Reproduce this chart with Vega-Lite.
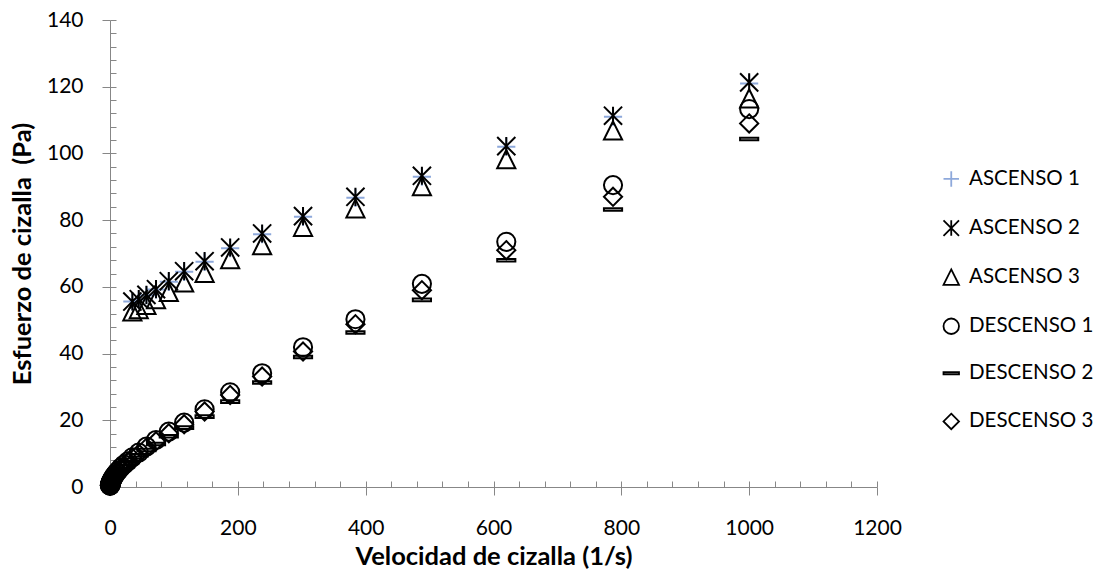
{
  "$schema": "https://vega.github.io/schema/vega-lite/v6.json",
  "width": 767,
  "height": 467,
  "autosize": "none",
  "padding": {"left": 110, "top": 20, "right": 229, "bottom": 90},
  "background": "white",
  "config": {
    "font": "Lato",
    "view": {"stroke": null},
    "axis": {
      "grid": false,
      "domainColor": "#878787",
      "domainWidth": 1,
      "tickColor": "#878787",
      "tickWidth": 1,
      "labelColor": "#000000",
      "labelFontSize": 21,
      "labelFont": "Lato",
      "titleColor": "#000000",
      "titleFont": "Lato",
      "titleFontSize": 25.5,
      "titleFontWeight": "bold",
      "labelOverlap": false,
      "labelFlush": false,
      "format": "d"
    },
    "legend": {
      "padding": 0,
      "labelFont": "Lato",
      "labelFontSize": 20.5,
      "labelColor": "#000000",
      "symbolSize": 240,
      "symbolStrokeWidth": 1.8,
      "rowPadding": 25.1,
      "labelOffset": 7.5,
      "labelLimit": 300
    }
  },
  "data": {
    "values": [
      {"serie": "ASCENSO 1", "velocidad": 1000, "esfuerzo": 121.0},
      {"serie": "ASCENSO 1", "velocidad": 787, "esfuerzo": 111.0},
      {"serie": "ASCENSO 1", "velocidad": 620, "esfuerzo": 102.0},
      {"serie": "ASCENSO 1", "velocidad": 488, "esfuerzo": 93.0},
      {"serie": "ASCENSO 1", "velocidad": 384, "esfuerzo": 86.7},
      {"serie": "ASCENSO 1", "velocidad": 302, "esfuerzo": 81.0},
      {"serie": "ASCENSO 1", "velocidad": 238, "esfuerzo": 75.8},
      {"serie": "ASCENSO 1", "velocidad": 188, "esfuerzo": 71.6},
      {"serie": "ASCENSO 1", "velocidad": 148, "esfuerzo": 67.5},
      {"serie": "ASCENSO 1", "velocidad": 116, "esfuerzo": 64.5},
      {"serie": "ASCENSO 1", "velocidad": 92, "esfuerzo": 61.5},
      {"serie": "ASCENSO 1", "velocidad": 72, "esfuerzo": 59.2},
      {"serie": "ASCENSO 1", "velocidad": 57, "esfuerzo": 57.5},
      {"serie": "ASCENSO 1", "velocidad": 45, "esfuerzo": 56.2},
      {"serie": "ASCENSO 1", "velocidad": 35, "esfuerzo": 55.6},

      {"serie": "ASCENSO 2", "velocidad": 1000, "esfuerzo": 121.3},
      {"serie": "ASCENSO 2", "velocidad": 787, "esfuerzo": 111.3},
      {"serie": "ASCENSO 2", "velocidad": 620, "esfuerzo": 102.2},
      {"serie": "ASCENSO 2", "velocidad": 488, "esfuerzo": 93.3},
      {"serie": "ASCENSO 2", "velocidad": 384, "esfuerzo": 87.0},
      {"serie": "ASCENSO 2", "velocidad": 302, "esfuerzo": 81.2},
      {"serie": "ASCENSO 2", "velocidad": 238, "esfuerzo": 76.0},
      {"serie": "ASCENSO 2", "velocidad": 188, "esfuerzo": 71.8},
      {"serie": "ASCENSO 2", "velocidad": 148, "esfuerzo": 67.7},
      {"serie": "ASCENSO 2", "velocidad": 116, "esfuerzo": 64.7},
      {"serie": "ASCENSO 2", "velocidad": 92, "esfuerzo": 61.7},
      {"serie": "ASCENSO 2", "velocidad": 72, "esfuerzo": 59.3},
      {"serie": "ASCENSO 2", "velocidad": 57, "esfuerzo": 57.6},
      {"serie": "ASCENSO 2", "velocidad": 45, "esfuerzo": 56.3},
      {"serie": "ASCENSO 2", "velocidad": 35, "esfuerzo": 55.6},

      {"serie": "ASCENSO 3", "velocidad": 1000, "esfuerzo": 116.5},
      {"serie": "ASCENSO 3", "velocidad": 787, "esfuerzo": 106.9},
      {"serie": "ASCENSO 3", "velocidad": 620, "esfuerzo": 98.3},
      {"serie": "ASCENSO 3", "velocidad": 488, "esfuerzo": 90.2},
      {"serie": "ASCENSO 3", "velocidad": 384, "esfuerzo": 83.5},
      {"serie": "ASCENSO 3", "velocidad": 302, "esfuerzo": 78.0},
      {"serie": "ASCENSO 3", "velocidad": 238, "esfuerzo": 72.5},
      {"serie": "ASCENSO 3", "velocidad": 188, "esfuerzo": 68.3},
      {"serie": "ASCENSO 3", "velocidad": 148, "esfuerzo": 64.2},
      {"serie": "ASCENSO 3", "velocidad": 116, "esfuerzo": 61.3},
      {"serie": "ASCENSO 3", "velocidad": 92, "esfuerzo": 58.5},
      {"serie": "ASCENSO 3", "velocidad": 72, "esfuerzo": 56.3},
      {"serie": "ASCENSO 3", "velocidad": 57, "esfuerzo": 54.6},
      {"serie": "ASCENSO 3", "velocidad": 45, "esfuerzo": 53.3},
      {"serie": "ASCENSO 3", "velocidad": 35, "esfuerzo": 52.6},

      {"serie": "DESCENSO 1", "velocidad": 1000, "esfuerzo": 113.3},
      {"serie": "DESCENSO 1", "velocidad": 787, "esfuerzo": 90.5},
      {"serie": "DESCENSO 1", "velocidad": 620, "esfuerzo": 73.5},
      {"serie": "DESCENSO 1", "velocidad": 488, "esfuerzo": 60.9},
      {"serie": "DESCENSO 1", "velocidad": 384, "esfuerzo": 50.3},
      {"serie": "DESCENSO 1", "velocidad": 302, "esfuerzo": 41.9},
      {"serie": "DESCENSO 1", "velocidad": 238, "esfuerzo": 34.1},
      {"serie": "DESCENSO 1", "velocidad": 188, "esfuerzo": 28.4},
      {"serie": "DESCENSO 1", "velocidad": 148, "esfuerzo": 23.3},
      {"serie": "DESCENSO 1", "velocidad": 116, "esfuerzo": 19.3},
      {"serie": "DESCENSO 1", "velocidad": 92, "esfuerzo": 16.6},
      {"serie": "DESCENSO 1", "velocidad": 72, "esfuerzo": 14.1},
      {"serie": "DESCENSO 1", "velocidad": 57, "esfuerzo": 12.1},
      {"serie": "DESCENSO 1", "velocidad": 45, "esfuerzo": 10.3},
      {"serie": "DESCENSO 1", "velocidad": 35, "esfuerzo": 8.9},
      {"serie": "DESCENSO 1", "velocidad": 28, "esfuerzo": 7.7},
      {"serie": "DESCENSO 1", "velocidad": 22, "esfuerzo": 6.7},
      {"serie": "DESCENSO 1", "velocidad": 17, "esfuerzo": 5.8},
      {"serie": "DESCENSO 1", "velocidad": 13.5, "esfuerzo": 5.0},
      {"serie": "DESCENSO 1", "velocidad": 10.6, "esfuerzo": 4.4},
      {"serie": "DESCENSO 1", "velocidad": 8.3, "esfuerzo": 3.8},
      {"serie": "DESCENSO 1", "velocidad": 6.5, "esfuerzo": 3.3},
      {"serie": "DESCENSO 1", "velocidad": 5.1, "esfuerzo": 2.9},
      {"serie": "DESCENSO 1", "velocidad": 4.0, "esfuerzo": 2.5},
      {"serie": "DESCENSO 1", "velocidad": 3.2, "esfuerzo": 2.2},
      {"serie": "DESCENSO 1", "velocidad": 2.5, "esfuerzo": 1.9},
      {"serie": "DESCENSO 1", "velocidad": 2.0, "esfuerzo": 1.7},
      {"serie": "DESCENSO 1", "velocidad": 1.5, "esfuerzo": 1.5},
      {"serie": "DESCENSO 1", "velocidad": 1.2, "esfuerzo": 1.3},
      {"serie": "DESCENSO 1", "velocidad": 0.95, "esfuerzo": 1.15},
      {"serie": "DESCENSO 1", "velocidad": 0.75, "esfuerzo": 1.0},
      {"serie": "DESCENSO 1", "velocidad": 0.6, "esfuerzo": 0.9},
      {"serie": "DESCENSO 1", "velocidad": 0.47, "esfuerzo": 0.8},
      {"serie": "DESCENSO 1", "velocidad": 0.37, "esfuerzo": 0.7},
      {"serie": "DESCENSO 1", "velocidad": 0.29, "esfuerzo": 0.62},
      {"serie": "DESCENSO 1", "velocidad": 0.23, "esfuerzo": 0.55},
      {"serie": "DESCENSO 1", "velocidad": 0.18, "esfuerzo": 0.49},
      {"serie": "DESCENSO 1", "velocidad": 0.14, "esfuerzo": 0.44},
      {"serie": "DESCENSO 1", "velocidad": 0.11, "esfuerzo": 0.39},

      {"serie": "DESCENSO 2", "velocidad": 1000, "esfuerzo": 104.3},
      {"serie": "DESCENSO 2", "velocidad": 787, "esfuerzo": 83.2},
      {"serie": "DESCENSO 2", "velocidad": 620, "esfuerzo": 68.0},
      {"serie": "DESCENSO 2", "velocidad": 488, "esfuerzo": 56.1},
      {"serie": "DESCENSO 2", "velocidad": 384, "esfuerzo": 46.3},
      {"serie": "DESCENSO 2", "velocidad": 302, "esfuerzo": 39.0},
      {"serie": "DESCENSO 2", "velocidad": 238, "esfuerzo": 31.3},
      {"serie": "DESCENSO 2", "velocidad": 188, "esfuerzo": 25.6},
      {"serie": "DESCENSO 2", "velocidad": 148, "esfuerzo": 21.1},
      {"serie": "DESCENSO 2", "velocidad": 116, "esfuerzo": 17.8},
      {"serie": "DESCENSO 2", "velocidad": 92, "esfuerzo": 15.2},
      {"serie": "DESCENSO 2", "velocidad": 72, "esfuerzo": 12.9},
      {"serie": "DESCENSO 2", "velocidad": 57, "esfuerzo": 11.1},
      {"serie": "DESCENSO 2", "velocidad": 45, "esfuerzo": 9.5},
      {"serie": "DESCENSO 2", "velocidad": 35, "esfuerzo": 8.2},
      {"serie": "DESCENSO 2", "velocidad": 28, "esfuerzo": 7.1},
      {"serie": "DESCENSO 2", "velocidad": 22, "esfuerzo": 6.2},
      {"serie": "DESCENSO 2", "velocidad": 17, "esfuerzo": 5.4},
      {"serie": "DESCENSO 2", "velocidad": 13.5, "esfuerzo": 4.7},
      {"serie": "DESCENSO 2", "velocidad": 10.6, "esfuerzo": 4.1},
      {"serie": "DESCENSO 2", "velocidad": 8.3, "esfuerzo": 3.6},
      {"serie": "DESCENSO 2", "velocidad": 6.5, "esfuerzo": 3.1},
      {"serie": "DESCENSO 2", "velocidad": 5.1, "esfuerzo": 2.7},
      {"serie": "DESCENSO 2", "velocidad": 4.0, "esfuerzo": 2.3},
      {"serie": "DESCENSO 2", "velocidad": 3.2, "esfuerzo": 2.0},
      {"serie": "DESCENSO 2", "velocidad": 2.5, "esfuerzo": 1.8},
      {"serie": "DESCENSO 2", "velocidad": 2.0, "esfuerzo": 1.6},
      {"serie": "DESCENSO 2", "velocidad": 1.5, "esfuerzo": 1.4},
      {"serie": "DESCENSO 2", "velocidad": 1.2, "esfuerzo": 1.2},
      {"serie": "DESCENSO 2", "velocidad": 0.95, "esfuerzo": 1.05},
      {"serie": "DESCENSO 2", "velocidad": 0.75, "esfuerzo": 0.93},
      {"serie": "DESCENSO 2", "velocidad": 0.6, "esfuerzo": 0.83},
      {"serie": "DESCENSO 2", "velocidad": 0.47, "esfuerzo": 0.74},
      {"serie": "DESCENSO 2", "velocidad": 0.37, "esfuerzo": 0.66},
      {"serie": "DESCENSO 2", "velocidad": 0.29, "esfuerzo": 0.58},
      {"serie": "DESCENSO 2", "velocidad": 0.23, "esfuerzo": 0.52},
      {"serie": "DESCENSO 2", "velocidad": 0.18, "esfuerzo": 0.46},
      {"serie": "DESCENSO 2", "velocidad": 0.14, "esfuerzo": 0.41},
      {"serie": "DESCENSO 2", "velocidad": 0.11, "esfuerzo": 0.37},

      {"serie": "DESCENSO 3", "velocidad": 1000, "esfuerzo": 109.0},
      {"serie": "DESCENSO 3", "velocidad": 787, "esfuerzo": 87.0},
      {"serie": "DESCENSO 3", "velocidad": 620, "esfuerzo": 71.0},
      {"serie": "DESCENSO 3", "velocidad": 488, "esfuerzo": 59.0},
      {"serie": "DESCENSO 3", "velocidad": 384, "esfuerzo": 48.8},
      {"serie": "DESCENSO 3", "velocidad": 302, "esfuerzo": 40.6},
      {"serie": "DESCENSO 3", "velocidad": 238, "esfuerzo": 33.1},
      {"serie": "DESCENSO 3", "velocidad": 188, "esfuerzo": 27.6},
      {"serie": "DESCENSO 3", "velocidad": 148, "esfuerzo": 22.6},
      {"serie": "DESCENSO 3", "velocidad": 116, "esfuerzo": 18.8},
      {"serie": "DESCENSO 3", "velocidad": 92, "esfuerzo": 16.1},
      {"serie": "DESCENSO 3", "velocidad": 72, "esfuerzo": 13.7},
      {"serie": "DESCENSO 3", "velocidad": 57, "esfuerzo": 11.8},
      {"serie": "DESCENSO 3", "velocidad": 45, "esfuerzo": 10.0},
      {"serie": "DESCENSO 3", "velocidad": 35, "esfuerzo": 8.7},
      {"serie": "DESCENSO 3", "velocidad": 28, "esfuerzo": 7.5},
      {"serie": "DESCENSO 3", "velocidad": 22, "esfuerzo": 6.5},
      {"serie": "DESCENSO 3", "velocidad": 17, "esfuerzo": 5.6},
      {"serie": "DESCENSO 3", "velocidad": 13.5, "esfuerzo": 4.9},
      {"serie": "DESCENSO 3", "velocidad": 10.6, "esfuerzo": 4.3},
      {"serie": "DESCENSO 3", "velocidad": 8.3, "esfuerzo": 3.7},
      {"serie": "DESCENSO 3", "velocidad": 6.5, "esfuerzo": 3.2},
      {"serie": "DESCENSO 3", "velocidad": 5.1, "esfuerzo": 2.8},
      {"serie": "DESCENSO 3", "velocidad": 4.0, "esfuerzo": 2.4},
      {"serie": "DESCENSO 3", "velocidad": 3.2, "esfuerzo": 2.1},
      {"serie": "DESCENSO 3", "velocidad": 2.5, "esfuerzo": 1.85},
      {"serie": "DESCENSO 3", "velocidad": 2.0, "esfuerzo": 1.65},
      {"serie": "DESCENSO 3", "velocidad": 1.5, "esfuerzo": 1.45},
      {"serie": "DESCENSO 3", "velocidad": 1.2, "esfuerzo": 1.25},
      {"serie": "DESCENSO 3", "velocidad": 0.95, "esfuerzo": 1.1},
      {"serie": "DESCENSO 3", "velocidad": 0.75, "esfuerzo": 0.97},
      {"serie": "DESCENSO 3", "velocidad": 0.6, "esfuerzo": 0.87},
      {"serie": "DESCENSO 3", "velocidad": 0.47, "esfuerzo": 0.78},
      {"serie": "DESCENSO 3", "velocidad": 0.37, "esfuerzo": 0.69},
      {"serie": "DESCENSO 3", "velocidad": 0.29, "esfuerzo": 0.6},
      {"serie": "DESCENSO 3", "velocidad": 0.23, "esfuerzo": 0.53},
      {"serie": "DESCENSO 3", "velocidad": 0.18, "esfuerzo": 0.47},
      {"serie": "DESCENSO 3", "velocidad": 0.14, "esfuerzo": 0.42},
      {"serie": "DESCENSO 3", "velocidad": 0.11, "esfuerzo": 0.38}
    ]
  },
  "mark": {"type": "point", "filled": false, "size": 330, "strokeWidth": 2, "opacity": 1},
  "encoding": {
    "x": {
      "field": "velocidad",
      "type": "quantitative",
      "scale": {"domain": [0, 1200], "nice": false},
      "axis": {
        "title": "Velocidad de cizalla (1/s)",
        "values": [0, 0.001, 40, 80, 120, 160, 200, 200.001, 240, 280, 320, 360, 400, 400.001, 440, 480, 520, 560, 600, 600.001, 640, 680, 720, 760, 800, 800.001, 840, 880, 920, 960, 1000, 1000.001, 1040, 1080, 1120, 1160, 1200, 1199.999],
        "labelExpr": "datum.value % 200 === 0 ? datum.label : ''",
        "tickSize": {"condition": {"test": "datum.value % 200 === 0", "value": 8}, "value": -6},
        "labelPadding": 22,
        "titleY": 57,
        "titleBaseline": "top"
      }
    },
    "y": {
      "field": "esfuerzo",
      "type": "quantitative",
      "scale": {"domain": [0, 140], "nice": false},
      "axis": {
        "title": "Esfuerzo de cizalla \u00a0(Pa)",
        "values": [0, 0.001, 4, 8, 12, 16, 20, 20.001, 24, 28, 32, 36, 40, 40.001, 44, 48, 52, 56, 60, 60.001, 64, 68, 72, 76, 80, 80.001, 84, 88, 92, 96, 100, 100.001, 104, 108, 112, 116, 120, 120.001, 124, 128, 132, 136, 140, 139.999],
        "labelExpr": "datum.value % 20 === 0 ? datum.label : ''",
        "tickSize": {"condition": {"test": "datum.value % 20 === 0", "value": 8}, "value": -6},
        "labelPadding": 19,
        "titleX": -87.5,
        "titleBaseline": "middle"
      }
    },
    "shape": {
      "field": "serie",
      "type": "nominal",
      "scale": {
        "domain": ["ASCENSO 1", "ASCENSO 2", "ASCENSO 3", "DESCENSO 1", "DESCENSO 2", "DESCENSO 3"],
        "range": [
          "M-1,0L1,0M0,-1L0,1",
          "M-1,-1L1,1M-1,1L1,-1M0,-1L0,1",
          "M0,-1L1,1L-1,1Z",
          "circle",
          "M-1,-0.14L1,-0.14L1,0.14L-1,0.14Z",
          "M0,-1L1,0L0,1L-1,0Z"
        ]
      },
      "legend": {"title": null, "orient": "none", "legendX": 831, "legendY": 148.7}
    },
    "color": {
      "field": "serie",
      "type": "nominal",
      "scale": {
        "domain": ["ASCENSO 1", "ASCENSO 2", "ASCENSO 3", "DESCENSO 1", "DESCENSO 2", "DESCENSO 3"],
        "range": ["#8EA9DB", "#000000", "#000000", "#000000", "#000000", "#000000"]
      },
      "legend": {"title": null, "orient": "none", "legendX": 831, "legendY": 148.7}
    }
  }
}
